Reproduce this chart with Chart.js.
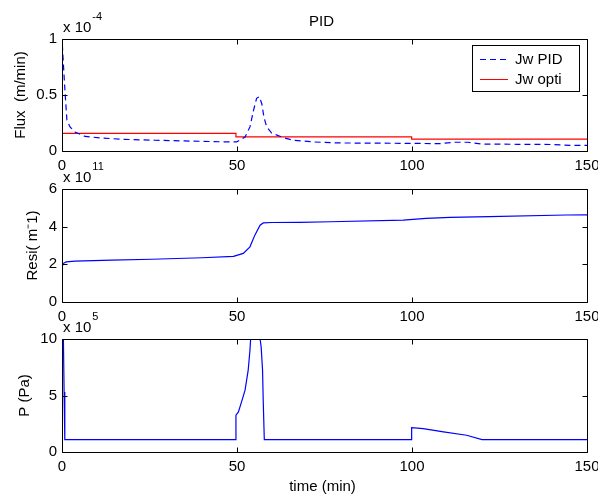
<!DOCTYPE html>
<html>
<head>
<meta charset="utf-8">
<script src="https://cdn.jsdelivr.net/npm/chart.js@4.4.0/dist/chart.umd.min.js"></script>
<style>
  body { margin: 0; background: #fff; }
  #wrap { position: relative; width: 598px; height: 495px; }
  canvas { position: absolute; left: 0; top: 0; }
</style>
</head>
<body>
<div id="wrap">
  <canvas id="fluxChart" width="598" height="495"></canvas>
  <canvas id="resiChart" width="598" height="495"></canvas>
  <canvas id="presChart" width="598" height="495"></canvas>
</div>
<script>
// x axis ticks (time, min)
const timeTicks = [0, 50, 100, 150];

// Flux, in units of 1e-4 m/min
const timePid = [0, 0.1, 0.5, 0.9, 1.4, 2.3, 3.7, 6.6, 11.3, 17, 26.6, 35, 42, 47, 49.9, 52.3, 53.7, 54.7, 55.6, 56.4, 57.1, 57.7, 58.5, 59.9, 63.2, 66, 71.8, 78.5, 90, 100, 108, 112, 116, 120, 130, 140, 145, 150];
const jwPid = [0.95, 0.946, 0.72, 0.51, 0.275, 0.215, 0.17, 0.13, 0.116, 0.105, 0.096, 0.09, 0.085, 0.081, 0.081, 0.125, 0.215, 0.36, 0.47, 0.485, 0.42, 0.30, 0.215, 0.16, 0.12, 0.096, 0.081, 0.072, 0.07, 0.068, 0.066, 0.078, 0.078, 0.062, 0.06, 0.058, 0.051, 0.05];
const timeOpti = [0, 49.7, 49.7, 99.9, 99.9, 150];
const jwOpti = [0.158, 0.158, 0.126, 0.126, 0.106, 0.106];
const fluxTicks = [0, 0.5, 1];

// Resistance, in units of 1e11 m^-1
const timeResi = [0, 0.3, 1.2, 3.7, 14.2, 25.6, 40, 49, 51.8, 53.7, 55.1, 56.6, 57.5, 60, 68, 76.6, 97.5, 104, 110.9, 122, 144, 150];
const resi = [1.78, 2.04, 2.13, 2.17, 2.22, 2.27, 2.35, 2.42, 2.58, 2.93, 3.55, 4.08, 4.2, 4.22, 4.23, 4.26, 4.35, 4.44, 4.49, 4.53, 4.62, 4.63];
const resiTicks = [0, 2, 4, 6];

// Pressure, in units of 1e5 Pa
const timePres = [0, 0.4, 0.6, 0.8, 49.7, 49.7, 50.4, 51.3, 52.3, 53.2, 53.7, 53.9, 56.6, 56.9, 57.3, 57.5, 57.8, 99.9, 99.9, 103.2, 109, 115.6, 120, 150];
const pres = [10, 10, 5.3, 1.1, 1.1, 3.26, 3.55, 4.44, 5.47, 7.25, 9.0, 10, 10, 9.3, 7.25, 4.44, 1.1, 1.1, 2.16, 2.07, 1.78, 1.48, 1.1, 1.1];
const presTicks = [0, 5, 10];

const FONT = '"Liberation Sans", Arial, Helvetica, sans-serif';
const FS = 15;

function toPoints(xs, ys) {
  let pts = [];
  for (let i = 0; i < xs.length; i++) {
    pts.push({x: xs[i], y: ys[i]});
  }
  return pts;
}

// draws the matlab style box, inward ticks, labels, exponent, legend
const matlabFrame = {
  id: 'matlabFrame',
  afterDraw(chart, args, opts) {
    const ctx = chart.ctx;
    const a = chart.chartArea;
    const xs = chart.scales.x;
    const ys = chart.scales.y;
    const L = Math.round(a.left) + 0.5, R = Math.round(a.right) + 0.5;
    const T = Math.round(a.top) + 0.5, B = Math.round(a.bottom) + 0.5;
    ctx.save();
    ctx.strokeStyle = '#000';
    ctx.lineWidth = 1;
    ctx.beginPath();
    ctx.rect(L, T, R - L, B - T);
    timeTicks.forEach(function(v) {
      const px = Math.round(xs.getPixelForValue(v)) + 0.5;
      ctx.moveTo(px, B); ctx.lineTo(px, B - 5);
      ctx.moveTo(px, T); ctx.lineTo(px, T + 5);
    });
    opts.yTicks.forEach(function(v) {
      const py = Math.round(ys.getPixelForValue(v)) + 0.5;
      ctx.moveTo(L, py); ctx.lineTo(L + 5, py);
      ctx.moveTo(R, py); ctx.lineTo(R - 5, py);
    });
    ctx.stroke();

    ctx.fillStyle = '#000';
    // exponent label
    ctx.textAlign = 'left';
    ctx.textBaseline = 'alphabetic';
    ctx.font = FS + 'px ' + FONT;
    const base = 'x 10';
    ctx.fillText(base, a.left + 1, a.top - 7);
    const w = ctx.measureText(base).width;
    ctx.font = '11px ' + FONT;
    ctx.fillText(opts.expPow, a.left + 1 + w + 1, a.top - 19);

    // y label
    ctx.font = FS + 'px ' + FONT;
    ctx.save();
    ctx.translate(opts.ylabelX, (a.top + a.bottom) / 2);
    ctx.rotate(-Math.PI / 2);
    ctx.textAlign = 'center';
    ctx.textBaseline = 'middle';
    ctx.fillText(opts.ylabel, 0, 0);
    ctx.restore();

    if (opts.title) {
      ctx.textAlign = 'center';
      ctx.textBaseline = 'alphabetic';
      ctx.fillText(opts.title, (a.left + a.right) / 2 - 3, 26);
    }
    if (opts.xlabel) {
      ctx.textAlign = 'center';
      ctx.textBaseline = 'alphabetic';
      ctx.fillText(opts.xlabel, (a.left + a.right) / 2 - 2, a.bottom + 39);
    }
    if (opts.legend) {
      const lg = opts.legend;
      ctx.fillStyle = '#fff';
      ctx.fillRect(lg.x, lg.y, lg.w, lg.h);
      ctx.strokeStyle = '#000';
      ctx.strokeRect(lg.x + 0.5, lg.y + 0.5, lg.w, lg.h);
      chart.data.datasets.forEach(function(ds, i) {
        const ry = Math.round(lg.y + 14 + i * 20) + 0.5;
        ctx.strokeStyle = ds.borderColor;
        ctx.lineWidth = ds.borderWidth || 1;
        ctx.setLineDash(ds.borderDash || []);
        ctx.beginPath();
        ctx.moveTo(lg.x + 8, ry);
        ctx.lineTo(lg.x + 36, ry);
        ctx.stroke();
        ctx.setLineDash([]);
        ctx.fillStyle = '#000';
        ctx.textAlign = 'left';
        ctx.textBaseline = 'middle';
        ctx.fillText(ds.label, lg.x + 43, ry);
      });
    }
    ctx.restore();
  }
};

// top / bottom = chart area edges in page pixels
function makeOptions(cfg) {
  const xHeight = 20;
  return {
    responsive: false,
    animation: false,
    layout: { padding: { top: cfg.top, left: 0, right: 11, bottom: 495 - cfg.bottom - xHeight } },
    plugins: {
      legend: { display: false },
      tooltip: { enabled: false },
      matlabFrame: cfg.frame
    },
    elements: { point: { radius: 0 }, line: { borderWidth: 1.2, tension: 0 } },
    scales: {
      x: {
        type: 'linear',
        min: 0, max: 150,
        grid: { display: false, drawTicks: false },
        border: { display: false },
        ticks: {
          stepSize: 50, padding: 6, color: '#000', maxRotation: 0,
          font: { family: FONT, size: FS }
        },
        afterFit: function(scale) {
          scale.height = xHeight;
          scale.paddingLeft = 0; scale.paddingRight = 0;
        }
      },
      y: {
        type: 'linear',
        min: cfg.yTicks[0], max: cfg.yTicks[cfg.yTicks.length - 1],
        grid: { display: false, drawTicks: false },
        border: { display: false },
        ticks: {
          stepSize: cfg.yTicks[1] - cfg.yTicks[0], padding: 5, color: '#000',
          font: { family: FONT, size: FS },
          callback: function(v) { return String(v); }
        },
        afterFit: function(scale) {
          scale.width = 62;
          scale.paddingTop = 0; scale.paddingBottom = 0;
        }
      }
    }
  };
}

new Chart(document.getElementById('fluxChart'), {
  type: 'line',
  data: {
    datasets: [
      { label: 'Jw PID', data: toPoints(timePid, jwPid), borderColor: '#0000ff', borderDash: [6, 4] },
      { label: 'Jw opti', data: toPoints(timeOpti, jwOpti), borderColor: '#ff0000' }
    ]
  },
  options: makeOptions({
    top: 39, bottom: 151, yTicks: fluxTicks,
    frame: {
      yTicks: fluxTicks, expPow: '-4', ylabel: 'Flux  (m/min)', ylabelX: 21,
      title: 'PID',
      legend: { x: 472, y: 45, w: 107, h: 46 }
    }
  }),
  plugins: [matlabFrame]
});

new Chart(document.getElementById('resiChart'), {
  type: 'line',
  data: {
    datasets: [
      { label: 'Resi', data: toPoints(timeResi, resi), borderColor: '#0000ff' }
    ]
  },
  options: makeOptions({
    top: 189, bottom: 302, yTicks: resiTicks,
    frame: { yTicks: resiTicks, expPow: '11', ylabel: 'Resi( m\u207B1)', ylabelX: 33 }
  }),
  plugins: [matlabFrame]
});

new Chart(document.getElementById('presChart'), {
  type: 'line',
  data: {
    datasets: [
      { label: 'P', data: toPoints(timePres, pres), borderColor: '#0000ff' }
    ]
  },
  options: makeOptions({
    top: 339, bottom: 452, yTicks: presTicks,
    frame: { yTicks: presTicks, expPow: '5', ylabel: 'P (Pa)', ylabelX: 25, xlabel: 'time (min)' }
  }),
  plugins: [matlabFrame]
});
</script>
</body>
</html>
